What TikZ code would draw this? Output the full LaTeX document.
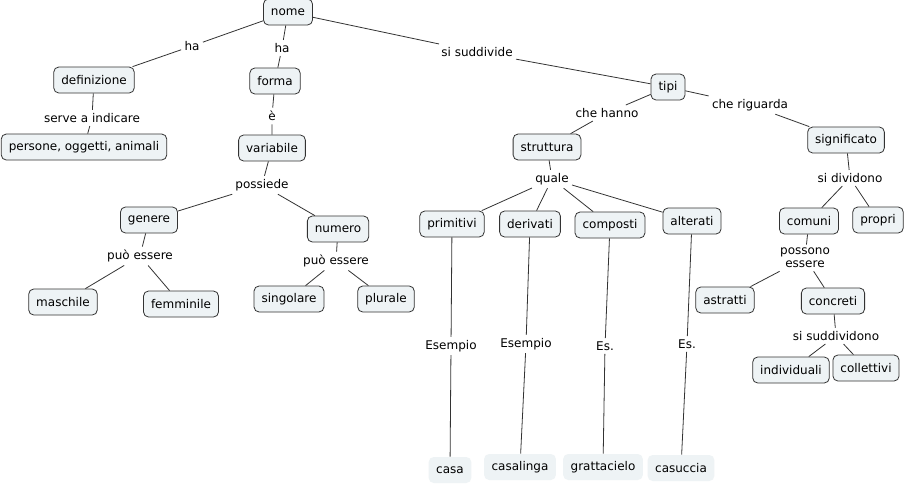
\documentclass[tikz,border=0pt]{standalone}
\usepackage{fontspec}
\setmainfont{DejaVu Sans}
\definecolor{conceptfill}{HTML}{EEF3F5}
\definecolor{linkgray}{HTML}{333333}

\begin{document}
\begin{tikzpicture}[x=1pt,y=-1pt,
    concept/.style={draw=linkgray,fill=conceptfill,rounded corners=5pt,line width=0.8pt,
      minimum height=26pt,inner xsep=7.5pt,font=\fontsize{12}{14}\selectfont},
    example/.style={fill=conceptfill,rounded corners=5pt,
      minimum height=26pt,inner xsep=7.5pt,font=\fontsize{12}{14}\selectfont},
    linkword/.style={inner sep=3pt,align=center,font=\fontsize{12}{13}\selectfont},
    every path/.style={draw=linkgray,line width=0.8pt}]
  \useasboundingbox[fill=white,draw=none] (0,0) rectangle (907,485);

  % concepts
  \node[concept] (nome) at (288,12) {nome};
  \node[concept] (definizione) at (94,80) {definizione};
  \node[concept] (forma) at (275,81) {forma};
  \node[concept] (persone) at (84,147) {persone, oggetti, animali};
  \node[concept] (variabile) at (272,148) {variabile};
  \node[concept] (genere) at (149,220) {genere};
  \node[concept] (numero) at (338,229) {numero};
  \node[concept] (maschile) at (63,302) {maschile};
  \node[concept] (femminile) at (181,304) {femminile};
  \node[concept] (singolare) at (289,299) {singolare};
  \node[concept] (plurale) at (386,299) {plurale};
  \node[concept] (tipi) at (668,87) {tipi};
  \node[concept] (struttura) at (547,147) {struttura};
  \node[concept] (significato) at (846,140) {significato};
  \node[concept] (primitivi) at (452,224) {primitivi};
  \node[concept] (derivati) at (530,224) {derivati};
  \node[concept] (composti) at (610,225) {composti};
  \node[concept] (alterati) at (692,221) {alterati};
  \node[concept] (comuni) at (809,221) {comuni};
  \node[concept] (propri) at (878,220) {propri};
  \node[concept] (astratti) at (725,300) {astratti};
  \node[concept] (concreti) at (833,301) {concreti};
  \node[concept] (individuali) at (791,370) {individuali};
  \node[concept] (collettivi) at (866,368) {collettivi};
  \node[example] (casa) at (450,470) {casa};
  \node[example] (casalinga) at (520,467) {casalinga};
  \node[example] (grattacielo) at (603,467) {grattacielo};
  \node[example] (casuccia) at (681,468) {casuccia};

  % linking words
  \node[linkword] (ha1) at (192,46) {ha};
  \node[linkword] (ha2) at (282,48) {ha};
  \node[linkword] (suddivide) at (477,52) {si suddivide};
  \node[linkword] (serve) at (92,118) {serve a indicare};
  \node[linkword] (e) at (272,116) {è};
  \node[linkword] (possiede) at (262,185) {possiede};
  \node[linkword] (puo1) at (140,256) {può essere};
  \node[linkword] (puo2) at (336,261) {può essere};
  \node[linkword] (hanno) at (607,113) {che hanno};
  \node[linkword] (riguarda) at (750,105) {che riguarda};
  \node[linkword] (quale) at (552,179) {quale};
  \node[linkword] (dividono) at (850,178) {si dividono};
  \node[linkword] (possono) at (805,258) {possono\\essere};
  \node[linkword] (suddividono) at (836,336) {si suddividono};
  \node[linkword] (es1) at (451,346) {Esempio};
  \node[linkword] (es2) at (526,344) {Esempio};
  \node[linkword] (es3) at (605,346) {Es.};
  \node[linkword] (es4) at (687,344) {Es.};

  % connections
  \draw (nome) -- (ha1) -- (definizione);
  \draw (nome) -- (ha2) -- (forma);
  \draw (nome) -- (suddivide) -- (tipi);
  \draw (definizione) -- (serve) -- (persone);
  \draw (forma) -- (e) -- (variabile);
  \draw (variabile) -- (possiede);
  \draw (possiede) -- (genere);
  \draw (possiede) -- (numero);
  \draw (genere) -- (puo1);
  \draw (puo1) -- (maschile);
  \draw (puo1) -- (femminile);
  \draw (numero) -- (puo2);
  \draw (puo2) -- (singolare);
  \draw (puo2) -- (plurale);
  \draw (tipi) -- (hanno) -- (struttura);
  \draw (tipi) -- (riguarda) -- (significato);
  \draw (struttura) -- (quale);
  \draw (quale) -- (primitivi);
  \draw (quale) -- (derivati);
  \draw (quale) -- (composti);
  \draw (quale) -- (alterati);
  \draw (significato) -- (dividono);
  \draw (dividono) -- (comuni);
  \draw (dividono) -- (propri);
  \draw (comuni) -- (possono);
  \draw (possono) -- (astratti);
  \draw (possono) -- (concreti);
  \draw (concreti) -- (suddividono);
  \draw (suddividono) -- (individuali);
  \draw (suddividono) -- (collettivi);
  \draw (primitivi) -- (es1) -- (casa);
  \draw (derivati) -- (es2) -- (casalinga);
  \draw (composti) -- (es3) -- (grattacielo);
  \draw (alterati) -- (es4) -- (casuccia);
\end{tikzpicture}
\end{document}
